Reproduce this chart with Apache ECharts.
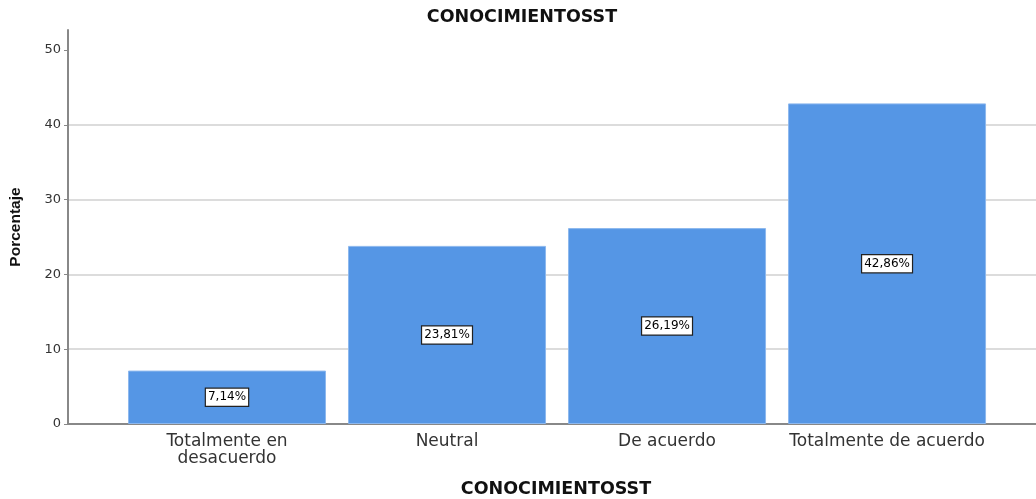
<!DOCTYPE html>
<html>
<head>
<meta charset="utf-8">
<script src="https://cdn.jsdelivr.net/npm/echarts@6/dist/echarts.min.js"></script>
<style>
  html, body { margin: 0; padding: 0; background: #fff; }
  #chart { width: 1036px; height: 499px; }
</style>
</head>
<body>
<div id="chart"></div>
<script>
// Response categories and their percentages
const categories = ['Totalmente en\ndesacuerdo', 'Neutral', 'De acuerdo', 'Totalmente de acuerdo'];
const percentages = [7.14, 23.81, 26.19, 42.86];
const yTicks = [0, 10, 20, 30, 40, 50];
const categoryPositions = [0, 1, 2, 3];

const chart = echarts.init(document.getElementById('chart'));
const wide = 'DejaVu Sans, Verdana, sans-serif';
const narrow = 'Liberation Sans, Arial, sans-serif';

chart.setOption({
  animation: false,
  title: {
    text: 'CONOCIMIENTOSST',
    left: 517,
    top: 3,
    textAlign: 'center',
    textStyle: { fontFamily: wide, fontSize: 17.5, fontWeight: 'bold', color: '#111' }
  },
  grid: { left: 68, right: 0, top: 30, bottom: 75, containLabel: false, outerBoundsMode: 'none' },
  xAxis: {
    type: 'value',
    min: -0.7227,
    max: 3.677,
    name: 'CONOCIMIENTOSST',
    nameLocation: 'middle',
    nameGap: 56,
    nameTextStyle: { fontFamily: wide, fontSize: 17.5, fontWeight: 'bold', color: '#111', padding: [0, 0, 0, 8] },
    axisLine: { show: true, onZero: false, lineStyle: { color: '#888', width: 2 } },
    axisTick: { show: false },
    splitLine: { show: false },
    axisLabel: {
      customValues: categoryPositions,
      formatter: v => categories[Math.round(v)] || '',
      fontFamily: wide,
      fontSize: 17,
      color: '#333',
      lineHeight: 17,
      margin: 9
    }
  },
  yAxis: {
    type: 'value',
    min: 0,
    max: 52.67,
    name: 'Porcentaje',
    nameLocation: 'middle',
    nameGap: 44,
    nameRotate: 90,
    nameTextStyle: { fontFamily: narrow, fontSize: 15.5, fontWeight: 'bold', color: '#111' },
    axisLine: { show: true, onZero: false, lineStyle: { color: '#888', width: 2 } },
    axisTick: { show: true, length: 4, customValues: yTicks, lineStyle: { color: '#888' } },
    axisLabel: {
      customValues: yTicks,
      fontFamily: wide,
      fontSize: 13,
      color: '#333',
      margin: 7
    },
    splitLine: { show: true, showMaxLine: false, lineStyle: { color: '#d0d0d0', width: 1.5 } }
  },
  series: [{
    type: 'bar',
    barWidth: 198,
    data: percentages.map((v, i) => [categoryPositions[i], v]),
    itemStyle: { color: '#5596e5', borderColor: '#8db8ee', borderWidth: 1 },
    label: {
      show: true,
      position: 'inside',
      formatter: p => p.value[1].toFixed(2).replace('.', ',') + '%',
      fontFamily: wide,
      fontSize: 12,
      color: '#000',
      backgroundColor: '#fff',
      borderColor: '#222',
      borderWidth: 1.2,
      padding: [3, 2, 2, 2]
    }
  }]
});
</script>
</body>
</html>
